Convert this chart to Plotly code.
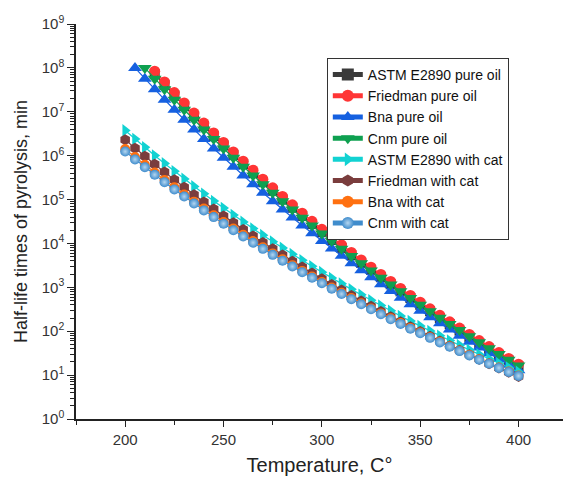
import plotly.graph_objects as go

temps = [200, 205, 210, 215, 220, 225, 230, 235, 240, 245, 250, 255, 260, 265, 270, 275, 280,
         285, 290, 295, 300, 305, 310, 315, 320, 325, 330, 335, 340, 345, 350, 355, 360, 365,
         370, 375, 380, 385, 390, 395, 400]

astm_pure = [None, None, None, 7.2e7, 4.1e7, 2.34e7, 1.35e7, 7.9e6, 4.7e6, 2.8e6, 1.7e6, 1.04e6,
             6.4e5, 4.0e5, 2.5e5, 1.58e5, 1.0e5, 6.5e4, 4.2e4, 2.75e4, 1.8e4, 1.2e4, 7.9e3, 5.4e3,
             3.6e3, 2.5e3, 1.7e3, 1.17e3, 810, 570, 400, 285, 200, 145, 103, 74, 54, 40, 29, 21.5, 15.8]
friedman_pure = [None, None, None, 8.43e7, 4.79e7, 2.74e7, 1.59e7, 9.33e6, 5.52e6, 3.30e6, 2.00e6,
                 1.22e6, 7.50e5, 4.67e5, 2.92e5, 1.85e5, 1.18e5, 7.57e4, 4.90e4, 3.20e4, 2.10e4,
                 1.39e4, 9.29e3, 6.24e3, 4.22e3, 2.87e3, 1.96e3, 1.36e3, 940, 655, 459, 324, 230,
                 164, 118, 84.7, 61.4, 44.7, 32.7, 24.0, 17.7]
bna_pure = [None, 1.00e8, 5.68e7, 3.26e7, 1.89e7, 1.11e7, 6.59e6, 3.94e6, 2.39e6, 1.46e6, 9.02e5,
            5.61e5, 3.52e5, 2.23e5, 1.43e5, 9.18e4, 5.97e4, 3.90e4, 2.57e4, 1.71e4, 1.14e4, 7.69e3,
            5.22e3, 3.56e3, 2.45e3, 1.69e3, 1.18e3, 824, 581, 411, 292, 209, 151, 109, 79.1, 57.8,
            42.5, 31.3, 23.2, 17.3, 12.9]
cnm_pure = [None, None, 1.00e8, 5.69e7, 3.26e7, 1.89e7, 1.11e7, 6.59e6, 3.94e6, 2.39e6, 1.46e6,
            8.99e5, 5.60e5, 3.52e5, 2.22e5, 1.42e5, 9.14e4, 5.93e4, 3.87e4, 2.55e4, 1.69e4, 1.13e4,
            7.60e3, 5.15e3, 3.52e3, 2.41e3, 1.66e3, 1.16e3, 809, 568, 402, 286, 204, 147, 106, 76.7,
            56.0, 41.0, 30.2, 22.3, 16.6]
astm_cat = [3.75e6, 2.40e6, 1.55e6, 1.01e6, 6.65e5, 4.42e5, 2.95e5, 1.99e5, 1.35e5, 9.25e4, 6.38e4,
            4.43e4, 3.10e4, 2.18e4, 1.54e4, 1.10e4, 7.89e3, 5.69e3, 4.12e3, 3.01e3, 2.21e3, 1.63e3,
            1.21e3, 899, 675, 507, 384, 291, 222, 170, 131, 101, 78.7, 61.2, 48.0, 37.6, 29.6, 23.4,
            18.6, 14.8, 11.8]
friedman_cat = [2.29e6, 1.48e6, 9.66e5, 6.35e5, 4.22e5, 2.82e5, 1.90e5, 1.29e5, 8.83e4, 6.10e4,
                4.23e4, 2.96e4, 2.08e4, 1.48e4, 1.05e4, 7.55e3, 5.45e3, 3.95e3, 2.89e3, 2.12e3,
                1.57e3, 1.16e3, 867, 650, 490, 371, 282, 215, 165, 127, 98.4, 76.6, 59.7, 46.7,
                36.7, 29.0, 23.0, 18.2, 14.5, 11.6, 9.33]
bna_cat = [1.41e6, 9.29e5, 6.17e5, 4.13e5, 2.79e5, 1.90e5, 1.30e5, 8.97e4, 6.25e4, 4.38e4, 3.09e4,
           2.19e4, 1.57e4, 1.13e4, 8.15e3, 5.93e3, 4.35e3, 3.20e3, 2.37e3, 1.76e3, 1.32e3, 991, 748,
           568, 433, 331, 255, 197, 153, 119, 93.1, 73.1, 57.7, 45.6, 36.2, 28.9, 23.1, 18.5, 14.9,
           12.1, 9.77]
cnm_cat = [1.24e6, 8.20e5, 5.47e5, 3.67e5, 2.49e5, 1.70e5, 1.17e5, 8.11e4, 5.66e4, 3.98e4, 2.82e4,
           2.00e4, 1.44e4, 1.04e4, 7.53e3, 5.50e3, 4.04e3, 2.98e3, 2.21e3, 1.65e3, 1.24e3, 931, 706,
           537, 410, 316, 243, 188, 147, 114, 89.7, 70.6, 55.7, 44.3, 35.2, 28.1, 22.5, 18.1, 14.6,
           11.8, 9.59]

y_tick_vals = [1, 10, 100, 1e3, 1e4, 1e5, 1e6, 1e7, 1e8, 1e9]
y_tick_text = ["10<sup>%d</sup>" % i for i in range(10)]
x_tick_vals = [200, 250, 300, 350, 400]

series = [
    ("ASTM E2890 pure oil", astm_pure, "#3a3a3a", "square", 10, None),
    ("Friedman pure oil", friedman_pure, "#ff3535", "circle", 11, None),
    ("Bna pure oil", bna_pure, "#1560e0", "triangle-up", 12, None),
    ("Cnm pure oil", cnm_pure, "#0ea050", "triangle-down", 12, None),
    ("ASTM E2890 with cat", astm_cat, "#12d2d2", "triangle-right", 11, None),
    ("Friedman with cat", friedman_cat, "#7a3d3d", "hexagon", 11, None),
    ("Bna with cat", bna_cat, "#ff7010", "circle", 10, None),
    ("Cnm with cat", cnm_cat, "#3f8ccc", "circle", 10, "#b4d6f0"),
]

fig = go.Figure()
for name, vals, color, sym, size, grad in series:
    marker = dict(symbol=sym, size=size, color=color, line=dict(width=0))
    if grad:
        marker["gradient"] = dict(type="radial", color=grad)
    fig.add_trace(go.Scatter(
        x=temps, y=vals, name=name, mode="lines+markers",
        line=dict(color=color, width=1.2), marker=marker,
    ))

font_family = "Liberation Sans, Arial, sans-serif"
fig.update_layout(
    width=563, height=479,
    margin=dict(l=76, r=0, t=24, b=60),
    paper_bgcolor="white", plot_bgcolor="white",
    font=dict(family=font_family, color="#222", size=15),
    showlegend=True,
    legend=dict(
        x=0.515, y=0.914, xanchor="left", yanchor="top",
        bordercolor="#333", borderwidth=1, bgcolor="white",
        font=dict(size=14, color="#111"), tracegroupgap=0,
        itemsizing="constant",
    ),
)
fig.update_xaxes(
    range=[175, 422.6], tickvals=x_tick_vals, ticks="outside", ticklen=6, tickwidth=1.3,
    tickcolor="#222", showline=True, linecolor="#222", linewidth=1.5, showgrid=False,
    zeroline=False, tickfont=dict(size=15, color="#333"), automargin=False,
    minor=dict(tickvals=[175, 225, 275, 325, 375], ticks="outside", ticklen=4, tickcolor="#222"),
    title=dict(text="Temperature, C°", font=dict(size=20, color="#222"), standoff=11),
)
fig.update_yaxes(
    type="log", range=[0, 9], tickvals=y_tick_vals, ticktext=y_tick_text,
    ticks="outside", ticklen=7, tickwidth=1.3, tickcolor="#222",
    showline=True, linecolor="#222", linewidth=1.5, showgrid=False, zeroline=False,
    tickfont=dict(size=15, color="#333"), automargin=False,
    minor=dict(ticks="outside", ticklen=4, tickcolor="#222", dtick="D1", showgrid=False),
    title=dict(text="Half-life times of pyrolysis, min", font=dict(size=18, color="#222"), standoff=9),
)

fig.write_html("out.html", config={"displayModeBar": False},
               post_script="document.body.style.margin='0px';")
